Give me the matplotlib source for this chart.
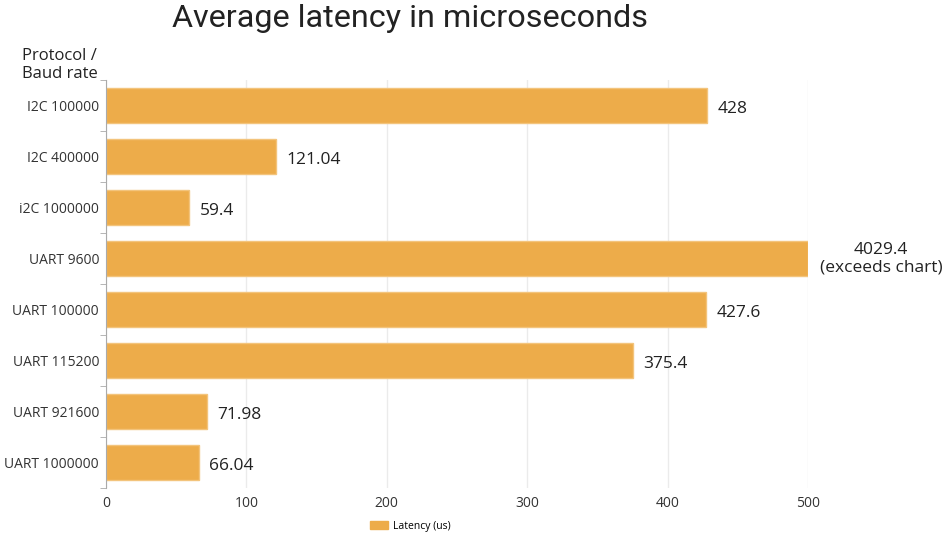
import matplotlib.pyplot as plt
import numpy as np

categories = ['I2C 100000', 'I2C 400000', 'i2C 1000000', 'UART 9600',
              'UART 100000', 'UART 115200', 'UART 921600', 'UART 1000000']
latency = [428, 121.04, 59.4, 4029.4, 427.6, 375.4, 71.98, 66.04]
x_max = 500
x_ticks = [0, 100, 200, 300, 400, 500]

bar_color = '#EDAC4A'
plt.rcParams['font.family'] = ['Open Sans', 'DejaVu Sans']

fig = plt.figure(figsize=(9.5, 5.37), dpi=100)
ax = fig.add_axes([106 / 950, 1 - 488 / 537, (808 - 106) / 950, (488 - 80) / 537])

y = np.arange(len(categories))
shown = [min(v, x_max) for v in latency]
ax.barh(y, shown, height=0.7, color=bar_color, edgecolor='#F3C47C', linewidth=1, zorder=2)

for yi, v, s in zip(y, latency, shown):
    if v > x_max:
        ax.text(x_max + 52, yi, f'{v}\n(exceeds chart)', ha='center', va='center',
                fontsize=12.5, color='#222222', linespacing=1.1, clip_on=False)
    else:
        ax.text(s + 7.5, yi + 0.06, f'{v:g}', ha='left', va='center',
                fontsize=12.5, color='#222222')

ax.set_ylim(len(categories) - 0.5, -0.5)
ax.set_xlim(0, x_max)
ax.set_yticks(y)
ax.set_yticklabels(categories, fontsize=10, color='#333333')
ax.set_yticks(np.arange(-0.5, len(categories)), minor=True)
ax.tick_params(axis='y', which='major', length=0, pad=5)
ax.tick_params(axis='y', which='minor', length=4, color='#AAAAAA')
ax.set_xticks(x_ticks)
ax.set_xticklabels([str(t) for t in x_ticks], fontsize=10, color='#333333')
ax.tick_params(axis='x', length=0, pad=6)
ax.grid(axis='x', color='#EBEBEB', linewidth=1, zorder=0)

for side in ['top', 'right', 'bottom']:
    ax.spines[side].set_visible(False)
ax.spines['left'].set_color('#AAAAAA')

fig.text(410 / 950, 1 - 27 / 537, 'Average latency in microseconds', ha='center', va='baseline',
         fontsize=23.3, family=['Roboto', 'DejaVu Sans'], color='#222222')
fig.text(22 / 950, 1 - 65 / 537, 'Protocol /\nBaud rate', ha='left', va='center',
         fontsize=12, color='#222222', linespacing=1.25)

ax.legend([plt.Rectangle((0, 0), 1, 1, color=bar_color)], ['Latency (us)'],
          loc='center', bbox_to_anchor=(410 / 950, 1 - 526 / 537), bbox_transform=fig.transFigure,
          frameon=False, fontsize=7.5, handlelength=1.8, handleheight=0.9, handletextpad=0.4)

fig.savefig('out.png', dpi=100)
